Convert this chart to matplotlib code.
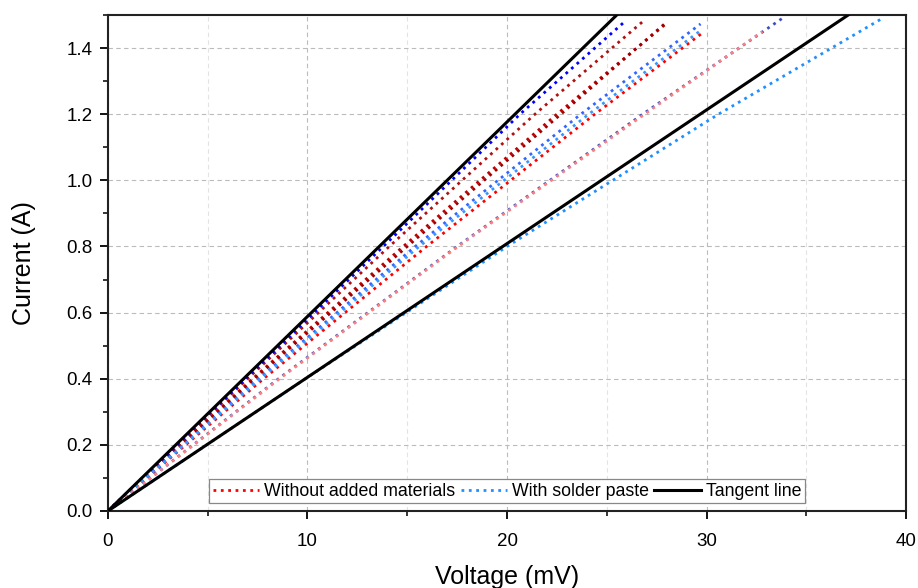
import matplotlib
matplotlib.use("Agg")
import matplotlib.pyplot as plt
from matplotlib.ticker import MultipleLocator

plt.rcParams['font.family'] = ['Liberation Sans', 'DejaVu Sans']

# ---- data ----
# Without added materials (red family)
r1_v = [0, 7.0, 14.1, 21.4, 26.8];   r1_i = [0, 0.4, 0.8, 1.2, 1.48]
r2_v = [0, 7.25, 14.8, 22.5, 27.9];  r2_i = [0, 0.4, 0.8, 1.2, 1.47]
r3_v = [0, 7.35, 15.0, 22.7, 27.95]; r3_i = [0, 0.4, 0.8, 1.2, 1.476]
r4_v = [0, 7.8, 15.97, 24.4, 29.8];  r4_i = [0, 0.4, 0.8, 1.2, 1.446]
r5_v = [0, 8.6, 17.55, 26.9, 32.8];  r5_i = [0, 0.4, 0.8, 1.2, 1.45]
# With solder paste (blue family)
b1_v = [0, 6.9, 13.8, 20.65, 25.9];  b1_i = [0, 0.4, 0.8, 1.2, 1.48]
b2_v = [0, 7.55, 15.4, 23.7, 29.7];  b2_i = [0, 0.4, 0.8, 1.2, 1.473]
b3_v = [0, 7.65, 15.6, 24.1, 29.75]; b3_i = [0, 0.4, 0.8, 1.2, 1.455]
b4_v = [0, 8.55, 17.5, 26.8, 33.8];  b4_i = [0, 0.4, 0.8, 1.2, 1.49]
b5_v = [0, 9.9, 20.0, 30.6, 38.9];   b5_i = [0, 0.4, 0.8, 1.2, 1.493]
# Tangent lines
t1_v = [0, 25.5]; t1_i = [0, 1.5]
t2_v = [0, 37.1]; t2_i = [0, 1.5]

x_ticks = [0, 10, 20, 30, 40]
y_ticks = [0.0, 0.2, 0.4, 0.6, 0.8, 1.0, 1.2, 1.4]

fig = plt.figure(figsize=(9.18, 5.88), dpi=100)
ax = fig.add_axes([0.1176, 0.131, 0.8694, 0.8435])

lw = 2.0
ax.plot(r1_v, r1_i, ':', color='#B01010', lw=lw)
ax.plot(r2_v, r2_i, ':', color='#C00000', lw=lw)
ax.plot(r3_v, r3_i, ':', color='#A00000', lw=lw)
l_red, = ax.plot(r4_v, r4_i, ':', color='#FF0000', lw=lw)
ax.plot(b1_v, b1_i, ':', color='#0000FF', lw=lw)
ax.plot(b2_v, b2_i, ':', color='#3366FF', lw=lw)
ax.plot(b3_v, b3_i, ':', color='#3399FF', lw=lw)
ax.plot(b4_v, b4_i, ':', color='#3F4FB8', lw=lw)
ax.plot(r5_v, r5_i, ':', color='#FF8080', lw=lw)
l_blue, = ax.plot(b5_v, b5_i, ':', color='#1E90FF', lw=lw)
l_tan, = ax.plot(t1_v, t1_i, '-', color='black', lw=2.2, zorder=5)
ax.plot(t2_v, t2_i, '-', color='black', lw=2.2, zorder=5)

ax.set_xlim(0, 40)
ax.set_ylim(0, 1.5)
ax.set_xticks(x_ticks)
ax.set_yticks(y_ticks)
ax.set_yticklabels([f"{v:.1f}" for v in y_ticks])
ax.xaxis.set_minor_locator(MultipleLocator(5))
ax.yaxis.set_minor_locator(MultipleLocator(0.1))

ax.grid(True, which='major', linestyle=(0, (4, 3)), color='#BBBBBB', lw=0.8)
ax.grid(True, which='minor', axis='x', linestyle=(0, (4, 3)), color='#E3E3E3', lw=0.8)
ax.set_axisbelow(True)

for s in ax.spines.values():
    s.set_linewidth(1.5)
    s.set_color('#222222')
ax.tick_params(which='major', direction='out', length=6, width=1.3, labelsize=13.5, top=False, right=False, pad=5)
ax.tick_params(axis='x', which='major', pad=10)
ax.tick_params(which='minor', direction='out', length=3.5, width=1.1, top=False, right=False)

ax.set_xlabel('Voltage (mV)', fontsize=18, labelpad=11)
ax.set_ylabel('Current (A)', fontsize=18, labelpad=22)

leg = ax.legend([l_red, l_blue, l_tan],
                ['Without added materials', 'With solder paste', 'Tangent line'],
                loc='lower center', bbox_to_anchor=(0.5, 0.008), ncol=3,
                fontsize=12.8, frameon=True, fancybox=False, framealpha=1,
                edgecolor='#888888', handlelength=2.6, handletextpad=0.3,
                columnspacing=0.3, borderpad=0.2, borderaxespad=0.2)
leg.get_frame().set_linewidth(0.9)

fig.savefig('out.png', dpi=100)
